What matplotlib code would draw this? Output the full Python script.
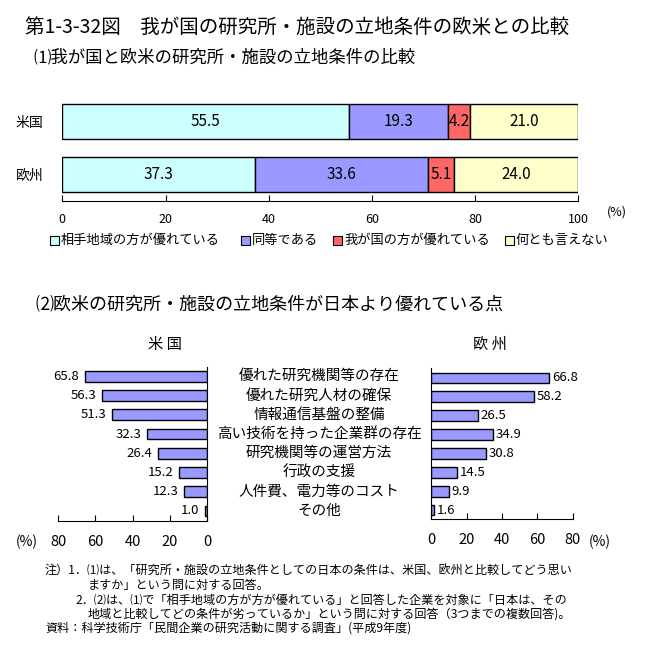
import matplotlib
matplotlib.use("Agg")
import matplotlib.pyplot as plt
import matplotlib.transforms as mtransforms
from matplotlib.patches import Rectangle

plt.rcParams['font.family'] = ['Noto Sans CJK JP', 'DejaVu Sans']

# data for (1)
regions = ["米国", "欧州"]
answers = ["相手地域の方が優れている", "同等である", "我が国の方が優れている", "何とも言えない"]
us_vals = [55.5, 19.3, 4.2, 21.0]
eu_vals = [37.3, 33.6, 5.1, 24.0]
colors = ["#CCFFFF", "#9999FF", "#FF6666", "#FFFFCC"]

# data for (2)
points = ["優れた研究機関等の存在", "優れた研究人材の確保", "情報通信基盤の整備",
          "高い技術を持った企業群の存在", "研究機関等の運営方法", "行政の支援",
          "人件費、電力等のコスト", "その他"]
us_points = [65.8, 56.3, 51.3, 32.3, 26.4, 15.2, 12.3, 1.0]
eu_points = [66.8, 58.2, 26.5, 34.9, 30.8, 14.5, 9.9, 1.6]

W = 648.0
fig = plt.figure(figsize=(6.48, 6.48), dpi=100)


def px_axes(x0, y0, x1, y1):
    # pixel box (top-left origin) -> axes
    return fig.add_axes([x0 / W, 1 - y1 / W, (x1 - x0) / W, (y1 - y0) / W])


fig.text(25 / W, 1 - 27 / W, "第1-3-32図　我が国の研究所・施設の立地条件の欧米との比較",
         fontsize=14, va="center", ha="left")
fig.text(33 / W, 1 - 58 / W, "⑴我が国と欧米の研究所・施設の立地条件の比較",
         fontsize=12.5, va="center", ha="left")

# ---- (1) stacked bars
ax = px_axes(62.3, 95, 578.3, 201)
rows = [eu_vals, us_vals]
left = [0, 0]
for k in range(len(answers)):
    vals = [r[k] for r in rows]
    ax.barh([0, 1], vals, left=left, height=0.66, color=colors[k],
            edgecolor="black", linewidth=1)
    for i, v in enumerate(vals):
        ax.text(left[i] + v / 2, i, f"{v:.1f}", ha="center", va="center", fontsize=11)
    left = [left[i] + vals[i] for i in range(2)]
ax.set_xlim(0, 100)
ax.set_ylim(-0.5, 1.5)
ax.set_yticks([0, 1])
ax.set_yticklabels(regions[::-1], fontsize=10)
ax.set_xticks(range(0, 101, 20))
ax.tick_params(axis="y", left=False, pad=10)
ax.tick_params(axis="x", direction="in", length=4, pad=9, labelsize=9)
for s in ["top", "right", "left"]:
    ax.spines[s].set_visible(False)
fig.text(617 / W, 1 - 212 / W, "(%)", fontsize=9, ha="center", va="center")

# legend
leg_x = [50, 241, 333, 505]
for k, name in enumerate(answers):
    fig.patches.append(Rectangle((leg_x[k] / W, 1 - 245 / W), 9 / W, 9 / W,
                                 transform=fig.transFigure, facecolor=colors[k],
                                 edgecolor="black", linewidth=0.8))
    fig.text((leg_x[k] + 11) / W, 1 - 240.5 / W, name, fontsize=9.5,
             ha="left", va="center")

# ---- (2)
fig.text(35 / W, 1 - 304 / W, "⑵欧米の研究所・施設の立地条件が日本より優れている点",
         fontsize=13, va="center", ha="left")

idx = list(range(len(points)))

axL = px_axes(58.3, 366.7, 207, 521)
axL.barh(idx, us_points, height=0.56, color="#9999FF", edgecolor="black", linewidth=1)
axL.set_xlim(80, 0)
axL.set_ylim(7.52, -0.5)
for i, v in enumerate(us_points):
    axL.annotate(f"{v:.1f}", (v, i), xytext=(-4, 0), textcoords="offset points",
                 ha="right", va="center", fontsize=9.5)
axL.set_xticks(range(0, 81, 20))
axL.set_yticks([])
axL.tick_params(axis="x", direction="in", length=4, pad=10, labelsize=10.5)
for s in ["top", "left"]:
    axL.spines[s].set_visible(False)

axR = px_axes(431.3, 368, 572.7, 519)
axR.barh(idx, eu_points, height=0.56, color="#9999FF", edgecolor="black", linewidth=1)
axR.set_xlim(0, 80)
axR.set_ylim(7.47, -0.52)
for i, v in enumerate(eu_points):
    axR.annotate(f"{v:.1f}", (v, i), xytext=(2, 0), textcoords="offset points",
                 ha="left", va="center", fontsize=9.5)
axR.set_xticks(range(0, 81, 20))
axR.set_yticks([])
axR.tick_params(axis="x", direction="in", length=4, pad=10, labelsize=10.5)
for s in ["top", "right"]:
    axR.spines[s].set_visible(False)

# category labels between the panels
tr = mtransforms.blended_transform_factory(fig.transFigure, axL.transData)
for i, name in enumerate(points):
    fig.text(319 / W, i, name, transform=tr, ha="center", va="center", fontsize=10.5)

fig.text(165 / W, 1 - 344 / W, "米 国", fontsize=11, ha="center", va="center")
fig.text(490 / W, 1 - 344 / W, "欧 州", fontsize=11, ha="center", va="center")
fig.text(27 / W, 1 - 542 / W, "(%)", fontsize=10, ha="center", va="center")
fig.text(600 / W, 1 - 542 / W, "(%)", fontsize=10, ha="center", va="center")

# notes
notes = [
    (45, 571, "注）1．⑴は、「研究所・施設の立地条件としての日本の条件は、米国、欧州と比較してどう思い"),
    (88, 585, "ますか」という問に対する回答。"),
    (75, 600, "2．⑵は、⑴で「相手地域の方が方が優れている」と回答した企業を対象に「日本は、その"),
    (88, 614, "地域と比較してどの条件が劣っているか」という問に対する回答（3つまでの複数回答)。"),
    (45, 628, "資料：科学技術庁「民間企業の研究活動に関する調査」(平成9年度)"),
]
for x, y, t in notes:
    fig.text(x / W, 1 - y / W, t, fontsize=8.7, ha="left", va="center")

fig.savefig("out.png", dpi=100)
